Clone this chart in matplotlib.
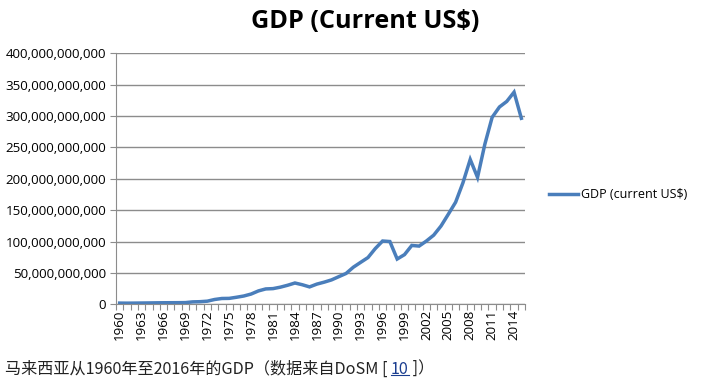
import matplotlib
matplotlib.use("Agg")
import matplotlib.pyplot as plt
from matplotlib.ticker import FuncFormatter, FixedLocator
from matplotlib.lines import Line2D

years = list(range(1960, 2016))
gdp_billion = [1.92, 1.82, 1.91, 2.04, 2.17, 2.34, 2.47, 2.52, 2.58, 2.71,
               3.86, 4.16, 4.98, 7.66, 9.27, 9.45, 11.23, 13.23, 16.36, 21.32,
               24.49, 25.0, 27.29, 30.35, 33.94, 31.2, 27.73, 32.18, 35.27, 38.85,
               44.02, 49.14, 59.15, 66.89, 74.48, 88.83, 100.85, 100.0, 72.17, 79.15,
               93.79, 92.78, 100.85, 110.2, 124.75, 143.53, 162.69, 193.55, 230.81, 202.26,
               255.02, 297.95, 314.44, 323.28, 338.06, 296.43]
y_ticks = [0, 50e9, 100e9, 150e9, 200e9, 250e9, 300e9, 350e9, 400e9]
title = "GDP (Current US$)"
series_label = "GDP (current US$)"
caption_parts = ["马来西亚从1960年至2016年的GDP（数据来自DoSM [ ", "10", " ]）"]

W, H = 712, 392
fig = plt.figure(figsize=(W / 100, H / 100), dpi=100)
fig.patch.set_facecolor("white")
ax = fig.add_axes([116 / W, 1 - 304.3 / H, (525 - 116) / W, (304.3 - 53.3) / H])

font = ["Open Sans", "DejaVu Sans"]
grid_c = "#8c8c8c"
line_c = "#4a7ebb"
tick_fs = 9.6

xs = list(range(len(years)))
vals = [v * 1e9 for v in gdp_billion]
ln, = ax.plot(xs, vals, color=line_c, lw=2.5, solid_joinstyle="miter", label=series_label)

ax.set_xlim(-0.5, len(years) - 0.5)
ax.set_ylim(0, 400e9)
ax.set_yticks(y_ticks)
ax.yaxis.set_major_formatter(FuncFormatter(lambda v, p: f"{int(round(v)):,}"))
ax.grid(axis="y", color=grid_c, lw=1.0)
ax.set_axisbelow(True)

major = xs[::3]
ax.xaxis.set_major_locator(FixedLocator(major))
ax.set_xticklabels([str(years[i]) for i in major], rotation=90, fontfamily=font, fontsize=tick_fs)
ax.xaxis.set_minor_locator(FixedLocator([i - 0.5 for i in range(len(years) + 1)]))
ax.tick_params(axis="x", which="major", length=0, pad=4)
ax.tick_params(axis="x", which="minor", length=4, color=grid_c, width=0.8)
ax.tick_params(axis="y", length=4, color=grid_c, width=0.8, labelsize=tick_fs, pad=3)
for lab in ax.get_yticklabels():
    lab.set_fontfamily(font)

for s in ["top", "right"]:
    ax.spines[s].set_visible(False)
ax.spines["left"].set_color(grid_c)
ax.spines["bottom"].set_color(grid_c)

fig.text(365 / W, 1 - 21 / H, title, ha="center", va="center", fontsize=18.2,
         fontweight="bold", fontfamily=font)

fig.legend(handles=[ln], loc="center left", bbox_to_anchor=(538 / W, 1 - 195 / H),
           frameon=False, handlelength=2.3, handletextpad=0.25,
           prop={"family": font, "size": 9.0})

cfont = ["Noto Sans CJK SC", "DejaVu Sans"]
cfs = 11.6
t1 = fig.text(5 / W, 1 - 369 / H, caption_parts[0], ha="left", va="center",
              fontsize=cfs, fontfamily=cfont, color="#222222")
t2 = fig.text(0, 0, caption_parts[1], fontsize=cfs, fontfamily=cfont, color="#1a3d8f")
t3 = fig.text(0, 0, caption_parts[2], fontsize=cfs, fontfamily=cfont, color="#222222")
fig.canvas.draw()
r = fig.canvas.get_renderer()
b1 = t1.get_window_extent(r)
t2.set_position((b1.x1 / W, b1.y0 / H))
t2.set_va("bottom")
fig.canvas.draw()
b2 = t2.get_window_extent(r)
t3.set_position((b2.x1 / W, b1.y0 / H))
t3.set_va("bottom")
uy = (b2.y0 + 3) / H
fig.add_artist(Line2D([b2.x0 / W, b2.x1 / W], [uy, uy], color="#1a3d8f", lw=0.8,
                      transform=fig.transFigure))

fig.savefig("out.png", dpi=100, facecolor="white")
